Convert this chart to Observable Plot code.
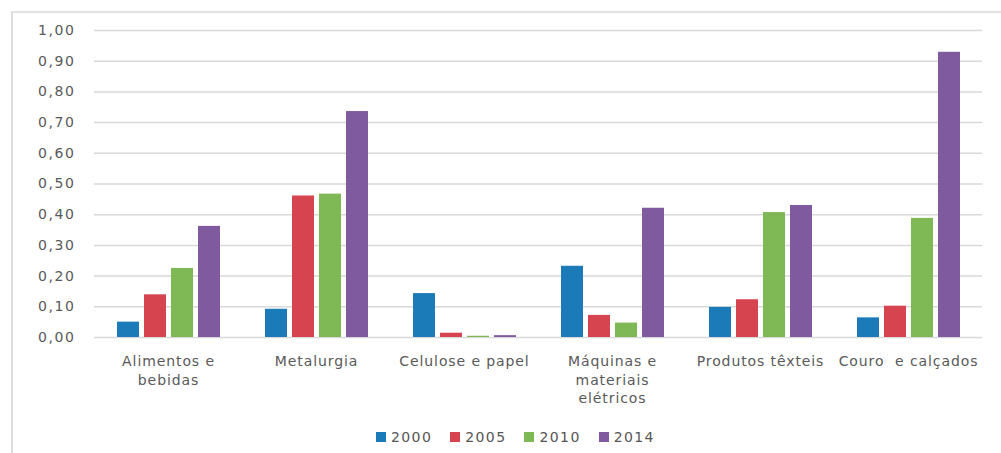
<!DOCTYPE html>
<html>
<head>
<meta charset="utf-8">
<script src="https://cdn.jsdelivr.net/npm/d3@7"></script>
<script src="https://cdn.jsdelivr.net/npm/@observablehq/plot@0.6"></script>
<style>
  html, body { margin: 0; padding: 0; background: #fff; }
  #wrap { position: relative; width: 1001px; height: 453px; overflow: hidden; font-family: "DejaVu Sans", sans-serif; }
  #frame { position: absolute; left: 11px; top: 11px; right: -5px; bottom: -5px; border-left: 2px solid #dcdcdc; border-top: 2px solid #e2e2e2; pointer-events: none; }
  #legend { display: flex; align-items: center; height: 33px; margin-left: 376px; gap: 18px; color: #555555; font-size: 14px; letter-spacing: 1.4px; }
  .item { display: flex; align-items: center; }
  .sw { width: 10px; height: 10px; margin-right: 5px; }
  #chart svg text { font-size: 14px; fill: #595959; }
  #chart g[aria-label="y-axis tick label"] text { letter-spacing: 1.6px; font-size: 14px; }
  #chart g[aria-label="fx-axis tick label"] text { letter-spacing: 0.9px; font-size: 14px; }
</style>
</head>
<body>
<div id="wrap"><div id="chart"></div><div id="legend"></div><div id="frame"></div></div>
<script>
const categories = ["Alimentos e bebidas", "Metalurgia", "Celulose e papel", "Máquinas e materiais elétricos", "Produtos têxteis", "Couro  e calçados"];
const categoryLabels = ["Alimentos e\nbebidas", "Metalurgia", "Celulose e papel", "Máquinas e\nmateriais\nelétricos", "Produtos têxteis", "Couro  e calçados"];
const years = ["2000", "2005", "2010", "2014"];
const v2000 = [0.050, 0.092, 0.143, 0.232, 0.098, 0.064];
const v2005 = [0.139, 0.461, 0.014, 0.072, 0.123, 0.102];
const v2010 = [0.225, 0.467, 0.004, 0.047, 0.407, 0.388];
const v2014 = [0.362, 0.736, 0.006, 0.421, 0.430, 0.929];
const yTicks = [0, 0.1, 0.2, 0.3, 0.4, 0.5, 0.6, 0.7, 0.8, 0.9, 1.0];
const colors = ["#1b7bb8", "#d5444f", "#7eb955", "#7f5a9e"];

const series = [v2000, v2005, v2010, v2014];
const rows = [];
categories.forEach((c, i) => years.forEach((y, j) => rows.push({category: c, year: y, value: series[j][i]})));
const labelOf = new Map(categories.map((c, i) => [c, categoryLabels[i]]));

const chart = Plot.plot({
  width: 1001,
  height: 420,
  marginLeft: 92,
  marginRight: 17,
  marginTop: 30,
  marginBottom: 83,
  style: {fontFamily: "DejaVu Sans, sans-serif", fontSize: "14px", color: "#595959", background: "transparent"},
  fx: {domain: categories, padding: 0, axis: null},
  x: {domain: years, paddingInner: 0.2, paddingOuter: 0.8, axis: null},
  y: {domain: [0, 1], axis: null},
  color: {domain: years, range: colors},
  marks: [
    Plot.gridY(yTicks, {stroke: "#d9d9d9", strokeOpacity: 1, strokeWidth: 1.5}),
    Plot.barY(rows, {fx: "category", x: "year", y: "value", fill: "year"}),
    Plot.axisY(yTicks, {tickSize: 0, tickPadding: 19, label: null, fontSize: 14, tickFormat: d => d.toFixed(2).replace(".", ",")}),
    Plot.axisFx({anchor: "bottom", tickSize: 0, tickPadding: 16, fontSize: 14, lineHeight: 1.3, label: null, tickFormat: d => labelOf.get(d)})
  ]
});
document.getElementById("chart").appendChild(chart);

const legend = document.getElementById("legend");
years.forEach((y, i) => {
  const it = document.createElement("div");
  it.className = "item";
  const sw = document.createElement("div");
  sw.className = "sw";
  sw.style.background = colors[i];
  const t = document.createElement("span");
  t.textContent = y;
  it.appendChild(sw); it.appendChild(t);
  legend.appendChild(it);
});
</script>
</body>
</html>
